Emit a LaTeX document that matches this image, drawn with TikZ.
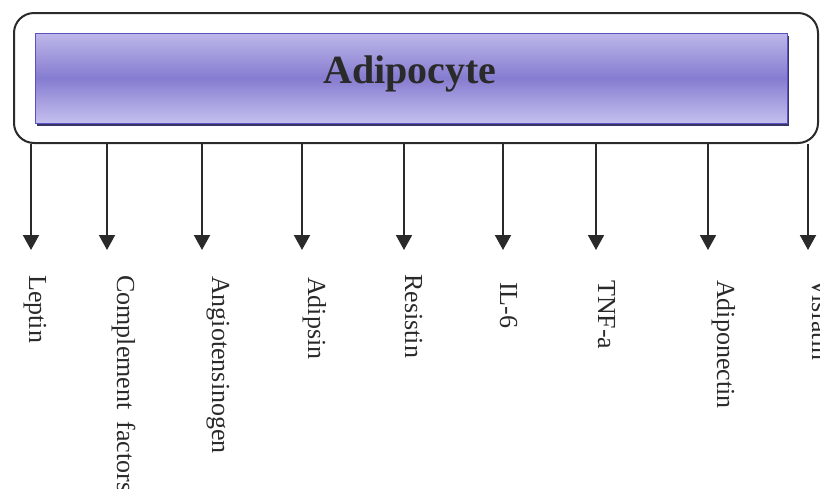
\documentclass[tikz,border=0pt]{standalone}
\usepackage{fontspec}
\setmainfont{Liberation Serif}
\usetikzlibrary{arrows.meta}
\definecolor{barTop}{HTML}{BDB8EA}
\definecolor{barMid}{HTML}{857CD0}
\definecolor{barBot}{HTML}{C4C0EE}
\definecolor{barEdge}{HTML}{5A52C0}
\definecolor{barShadow}{HTML}{3A3564}
\definecolor{ink}{HTML}{2A2A2A}
\tikzset{
  cellbox/.style={draw=ink, line width=2pt, rounded corners=20pt, inner sep=0pt},
  arr/.style={draw=ink, line width=2pt, -{Triangle[length=15pt,width=16pt]}},
  lab/.style={rotate=-90, anchor=base west, inner sep=0pt, text=ink,
              font=\fontsize{26}{30}\selectfont},
  title/.style={text=ink, inner sep=0pt, anchor=base,
                font=\fontsize{40}{48}\selectfont\bfseries}
}
\begin{document}
\begin{tikzpicture}[x=1pt,y=-1pt]
\useasboundingbox (0,0) rectangle (820,488);
% outer cell
\node[cellbox, minimum width=804pt, minimum height=130pt] (cell) at (416,78) {};
% inner bar with shadow
\fill[barShadow] (37,36) rectangle (789,126);
\shade[top color=barTop, bottom color=barBot, middle color=barMid]
  (35,33) rectangle (787,123);
\draw[barEdge, line width=0.8pt] (35,33) rectangle (787,123);
\node[title] (adip) at (410,83) {Adipocyte};
% arrow tips
\coordinate (t1) at (31,250);
\coordinate (t2) at (107,250);
\coordinate (t3) at (202,250);
\coordinate (t4) at (302,250);
\coordinate (t5) at (404,250);
\coordinate (t6) at (503,250);
\coordinate (t7) at (596,250);
\coordinate (t8) at (708,250);
\coordinate (t9) at (808,250);
\foreach \i in {1,...,9} \draw[arr] (cell.south -| t\i) -- (t\i);
% labels
\node[lab] (l1) at (29,275) {Leptin};
\node[lab] (l2) at (117,275) {Complement\hspace{12pt}factors};
\node[lab] (l3) at (212,276) {Angiotensinogen};
\node[lab] (l4) at (308,277) {Adipsin};
\node[lab] (l5) at (405,274) {Resistin};
\node[lab] (l6) at (500,282) {IL-6};
\node[lab] (l7) at (598,280) {TNF-a};
\node[lab] (l8) at (717,280) {Adiponectin};
\node[lab] (l9) at (812,278) {Visfatin};
\end{tikzpicture}
\end{document}
